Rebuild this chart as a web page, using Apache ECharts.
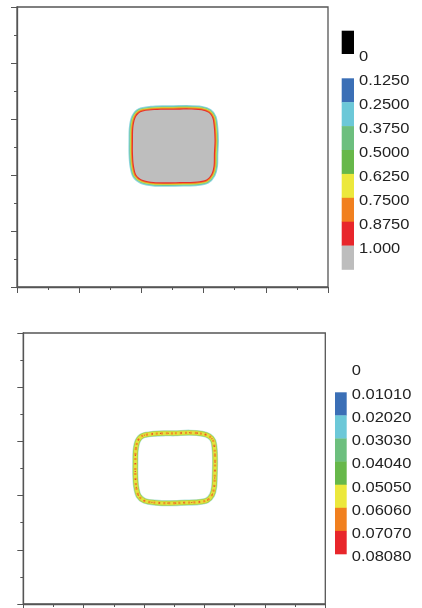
<!DOCTYPE html>
<html>
<head>
<meta charset="utf-8">
<script src="https://cdn.jsdelivr.net/npm/echarts@6/dist/echarts.min.js"></script>
<style>html,body{margin:0;padding:0;background:#fff;}#c{width:422px;height:608px;}</style>
</head>
<body>
<div id="c"></div>
<script>
// Top panel: boundary of the solid (grey) region, in axis units
const topShapeX = [5.03,5.51,5.93,6.16,6.28,6.33,6.35,6.33,6.32,6.25,6.09,5.80,5.35,4.87,4.39,4.03,3.84,3.76,3.73,3.73,3.74,3.81,3.97,4.32,4.71];
const topShapeY = [6.33,6.34,6.31,6.22,6.04,5.68,5.22,4.75,4.33,4.04,3.84,3.77,3.75,3.74,3.75,3.83,4.00,4.33,4.75,5.22,5.68,6.04,6.24,6.31,6.33];
// Bottom panel: centre line of the interface ring, in axis units
const botRingX = [5.02,5.51,5.93,6.16,6.29,6.34,6.35,6.34,6.32,6.25,6.09,5.80,5.35,4.86,4.37,4.01,3.82,3.74,3.71,3.71,3.72,3.79,3.95,4.31,4.70];
const botRingY = [6.30,6.32,6.28,6.19,6.02,5.66,5.20,4.74,4.31,4.02,3.83,3.76,3.74,3.72,3.74,3.81,3.99,4.31,4.74,5.20,5.66,6.02,6.21,6.28,6.30];

// Legends
const topZeroLabel = '0';
const topLabels = ['0.1250','0.2500','0.3750','0.5000','0.6250','0.7500','0.8750','1.000'];
const topColors = ['#3b6fb6','#6cc8d8','#6dbf7e','#67b84a','#ece83c','#f1801f','#e8262b','#bdbdbd'];
const botZeroLabel = '0';
const botLabels = ['0.01010','0.02020','0.03030','0.04040','0.05050','0.06060','0.07070','0.08080'];
const botColors = ['#3b6fb6','#6cc8d8','#6dbf7e','#67b84a','#ece83c','#f1801f','#e8262b'];

const axisCol = '#555';
function axisX(gi){
  return {gridIndex:gi,type:'value',min:0,max:10,interval:2,
    axisLine:{show:true,onZero:false,lineStyle:{color:axisCol,width:1.3}},
    axisTick:{show:true,length:6,lineStyle:{color:axisCol,width:1}},
    minorTick:{show:true,splitNumber:2,length:3,lineStyle:{color:axisCol,width:1}},
    axisLabel:{show:false},splitLine:{show:false}};
}
function axisY(gi){
  return {gridIndex:gi,type:'value',min:0,max:10,interval:2,
    axisLine:{show:true,onZero:false,lineStyle:{color:axisCol,width:1.3}},
    axisTick:{show:true,length:6,lineStyle:{color:axisCol,width:1}},
    minorTick:{show:true,splitNumber:2,length:3,lineStyle:{color:axisCol,width:1}},
    axisLabel:{show:false},splitLine:{show:false}};
}

function pts(api, xs, ys){
  return xs.map((x,i)=>api.coord([x, ys[i]]));
}

const graphic = [];
const FONT = 'Liberation Sans, Arial, sans-serif';
function label(x,y,t){
  graphic.push({type:'text',x:x,y:y,scaleX:1.1,
    style:{text:t,fontSize:15,fontFamily:FONT,fill:'#222',verticalAlign:'middle',align:'left'}});
}
// top legend
graphic.push({type:'rect',shape:{x:341.7,y:30.7,width:12.3,height:23.3},style:{fill:'#000'}});
label(359,57,topZeroLabel);
const tBandTop=78.3, tBandH=23.9;
topColors.forEach((c,i)=>{
  graphic.push({type:'rect',shape:{x:341.7,y:tBandTop+i*tBandH,width:12.3,height:tBandH+0.3},style:{fill:c}});
});
topLabels.forEach((t,i)=>label(359,tBandTop+i*tBandH+3,t));
// bottom legend
label(351.7,370.5,botZeroLabel);
const bBandTop=392.3, bBandH=23.1;
botColors.forEach((c,i)=>{
  graphic.push({type:'rect',shape:{x:335,y:bBandTop+i*bBandH,width:11.7,height:bBandH+0.3},style:{fill:c}});
});
botLabels.forEach((t,i)=>label(351.7,bBandTop+i*bBandH+2.7,t));

const option = {
  animation:false,
  backgroundColor:'#fff',
  grid:[
    {left:17,top:7,width:311,height:280,show:true,borderColor:axisCol,borderWidth:1.3,backgroundColor:'#fff'},
    {left:23.3,top:333,width:302,height:271,show:true,borderColor:axisCol,borderWidth:1.3,backgroundColor:'#fff'}
  ],
  xAxis:[axisX(0),axisX(1)],
  yAxis:[axisY(0),axisY(1)],
  series:[
    {type:'custom',xAxisIndex:0,yAxisIndex:0,data:[[5,5]],clip:false,
     renderItem:function(params,api){
       const p = pts(api, topShapeX, topShapeY);
       const layers = [
         ['#8fd6e0',9],['#6dc7a0',7.2],['#c9e04a',5.6],['#f08a22',4],['#e8312b',2.2]
       ];
       const children = layers.map(l=>({type:'polygon',shape:{points:p,smooth:0.3},
         style:{fill:'none',stroke:l[0],lineWidth:l[1],lineJoin:'round'}}));
       children.push({type:'polygon',shape:{points:p,smooth:0.3},style:{fill:'#bebebe',stroke:null}});
       return {type:'group',children:children};
     }},
    {type:'custom',xAxisIndex:1,yAxisIndex:1,data:[[5,5]],clip:false,
     renderItem:function(params,api){
       const p = pts(api, botRingX, botRingY);
       const children = [
         {type:'polygon',shape:{points:p,smooth:0.3},style:{fill:'none',stroke:'#b4e3dc',lineWidth:6.2,lineJoin:'round'}},
         {type:'polygon',shape:{points:p,smooth:0.3},style:{fill:'none',stroke:'#a8cf46',lineWidth:5,lineJoin:'round'}},
         {type:'polygon',shape:{points:p,smooth:0.3},style:{fill:'none',stroke:'#e2e23e',lineWidth:3.4,lineJoin:'round'}},
         {type:'polygon',shape:{points:p,smooth:0.3},style:{fill:'none',stroke:'#f0902a',lineWidth:2.2,lineDash:[2,3],lineJoin:'round'}},
         {type:'polygon',shape:{points:p,smooth:0.3},style:{fill:'none',stroke:'#e5452a',lineWidth:1.2,lineDash:[1,7],lineDashOffset:2}}
       ];
       return {type:'group',children:children};
     }}
  ],
  graphic:graphic
};
const chart = echarts.init(document.getElementById('c'),null,{renderer:'canvas'});
chart.setOption(option);
</script>
</body>
</html>
